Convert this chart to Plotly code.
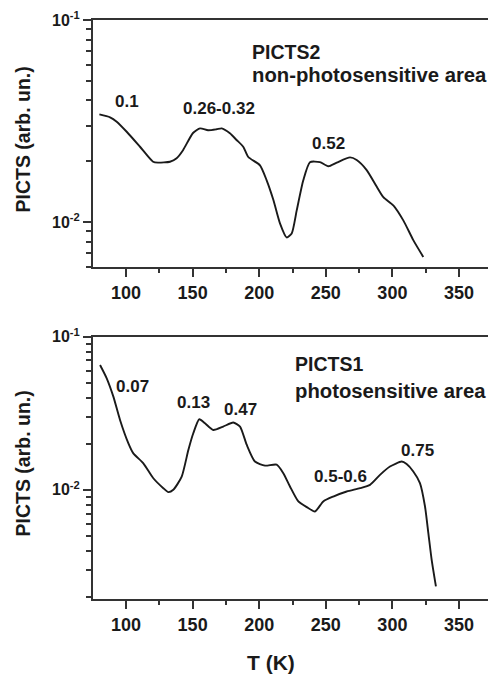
import numpy as np
import plotly.graph_objects as go
from plotly.subplots import make_subplots

# PICTS2 — non-photosensitive area
t_picts2 = [80, 88, 93, 100.5, 110.5, 120.3, 124, 133, 138, 142.8, 150.3, 155.6,
            161.6, 168, 171.8, 178, 183, 188, 191.8, 200.6, 205.6, 210.6, 215.6,
            220.6, 224.4, 228.2, 233.1, 238.1, 245.6, 251.9, 258.2, 268.2, 273.2,
            280.7, 288.2, 293.2, 300.7, 308.2, 315.7, 323.2]
s_picts2 = [0.0341, 0.0330, 0.0314, 0.0280, 0.0236, 0.0199, 0.0197, 0.0199, 0.0207,
            0.0227, 0.0276, 0.0291, 0.0285, 0.0288, 0.0291, 0.0275, 0.0255, 0.0236,
            0.0210, 0.0191, 0.0161, 0.0129, 0.00986, 0.00840, 0.00879, 0.01146,
            0.0161, 0.0198, 0.0198, 0.0189, 0.0197, 0.0209, 0.0203, 0.0181, 0.0150,
            0.0133, 0.0121, 0.0102, 0.00815, 0.00673]

# PICTS1 — photosensitive area
t_picts1 = [80.5, 85.5, 90.5, 95.5, 101.7, 105.5, 113, 120.5, 128, 131.8, 135.5,
            141.8, 146.8, 150.5, 155, 159.3, 165.5, 173, 180.5, 185.6, 190.6, 196.8,
            204.4, 213.1, 218.1, 223.1, 229.4, 235.7, 241.9, 248.1, 255.6, 265.7,
            275.7, 283.2, 290.7, 298.2, 307, 310.7, 315.7, 320.7, 324.5, 327, 329.5,
            332.7]
s_picts1 = [0.0654, 0.0535, 0.0406, 0.0286, 0.0202, 0.0173, 0.0149, 0.0119, 0.01025,
            0.00966, 0.0100, 0.0122, 0.0182, 0.0234, 0.0289, 0.0272, 0.0246, 0.0259,
            0.0275, 0.0259, 0.0197, 0.0153, 0.0144, 0.0146, 0.01285, 0.01052,
            0.00840, 0.00771, 0.00722, 0.00840, 0.00904, 0.00975, 0.01025, 0.01078,
            0.01253, 0.01419, 0.0153, 0.01472, 0.01317, 0.01106, 0.00778, 0.00522,
            0.00349, 0.00234]

x_ticks = [100, 150, 200, 250, 300, 350]
y_ticks = [0.01, 0.1]
y_ticktext = ["10<sup>-2</sup>", "10<sup>-1</sup>"]

# peak activation energies (eV) written next to the curves
top_labels = ["0.1", "0.26-0.32", "0.52"]
bottom_labels = ["0.07", "0.13", "0.47", "0.5-0.6", "0.75"]

INK = "#1a1a1a"
AXIS = "#333333"
FONT = "Liberation Sans, Arial, sans-serif"

fig = make_subplots(rows=2, cols=1, vertical_spacing=0.1204)
fig.add_trace(go.Scatter(x=t_picts2, y=s_picts2, mode="lines",
                         line=dict(color=INK, width=1.9, shape="spline", smoothing=0.6),
                         showlegend=False), row=1, col=1)
fig.add_trace(go.Scatter(x=t_picts1, y=s_picts1, mode="lines",
                         line=dict(color=INK, width=1.9, shape="spline", smoothing=0.6),
                         showlegend=False), row=2, col=1)

minor_y = [k * 10.0 ** e for e in (-3, -2) for k in range(2, 10)]

xax = dict(range=[75.2, 371.8], tickvals=x_ticks, showline=True, linecolor=AXIS,
           linewidth=2, mirror=True, ticks="outside", ticklen=8, tickwidth=1.5,
           tickcolor=AXIS, showgrid=False, zeroline=False,
           minor=dict(tickmode="linear", tick0=0, dtick=25, ticks="outside",
                      ticklen=4, tickwidth=1.5, tickcolor=AXIS),
           tickfont=dict(family=FONT, size=18, color=INK, weight="bold"))
yax = dict(type="log", tickvals=y_ticks, ticktext=y_ticktext, showline=True,
           linecolor=AXIS, linewidth=2, mirror=False, ticks="outside", ticklen=8,
           tickwidth=1.5, tickcolor=AXIS, showgrid=False, zeroline=False,
           minor=dict(tickvals=minor_y, ticks="outside", ticklen=5, tickwidth=1.5,
                      tickcolor=AXIS),
           tickfont=dict(family=FONT, size=16, color=INK, weight="bold"))

fig.update_xaxes(**xax)
fig.update_yaxes(**yax)
fig.update_yaxes(range=[-2.222, -1], row=1, col=1)
fig.update_yaxes(range=[-2.713, -1], row=2, col=1)

ann = []
lbl_font = dict(family=FONT, size=17, color=INK, weight="bold")
head_font = dict(family=FONT, size=19.5, color=INK, weight="bold")
desc_font = dict(family=FONT, size=20.3, color=INK, weight="bold")

for txt, (x, ly) in zip(top_labels, [(100.75, -1.401), (169.8, -1.436), (252.4, -1.609)]):
    ann.append(dict(text=txt, x=x, y=ly, xref="x", yref="y", showarrow=False, font=lbl_font))
for txt, (x, ly) in zip(bottom_labels, [(104.5, -1.328), (150.3, -1.4325), (186.3, -1.478),
                                        (261.4, -1.915), (319.2, -1.7456)]):
    ann.append(dict(text=txt, x=x, y=ly, xref="x2", yref="y2", showarrow=False, font=lbl_font))

ann += [
    dict(text="PICTS2", x=193.1, y=-1.158, xref="x", yref="y", xanchor="left",
         showarrow=False, font=head_font),
    dict(text="non-photosensitive area", x=193.1, y=-1.272, xref="x", yref="y",
         xanchor="left", showarrow=False, font=desc_font),
    dict(text="PICTS1", x=225.4, y=-1.178, xref="x2", yref="y2", xanchor="left",
         showarrow=False, font=head_font),
    dict(text="photosensitive area", x=225.4, y=-1.354, xref="x2", yref="y2",
         xanchor="left", showarrow=False, font=desc_font),
]

title_font = dict(family=FONT, size=19.5, color=INK, weight="bold")
for yc in (140, 464):
    ann.append(dict(text="PICTS (arb. un.)", textangle=-90, x=(22.5 - 93) / 395,
                    y=(599 - yc) / 579, xref="paper", yref="paper", xanchor="center",
                    yanchor="middle", showarrow=False, font=title_font))
ann.append(dict(text="T (K)", x=(271 - 93) / 395, y=(599 - 662) / 579, xref="paper",
                yref="paper", xanchor="center", yanchor="middle", showarrow=False,
                font=dict(family=FONT, size=21, color=INK, weight="bold")))

fig.update_layout(width=488, height=676, margin=dict(l=93, r=0, t=20, b=77),
                  paper_bgcolor="white", plot_bgcolor="white", annotations=ann)
fig.update_layout(yaxis=dict(domain=[0.5734, 1.0]), yaxis2=dict(domain=[0.0, 0.453]))

fig.write_html("out.html")
